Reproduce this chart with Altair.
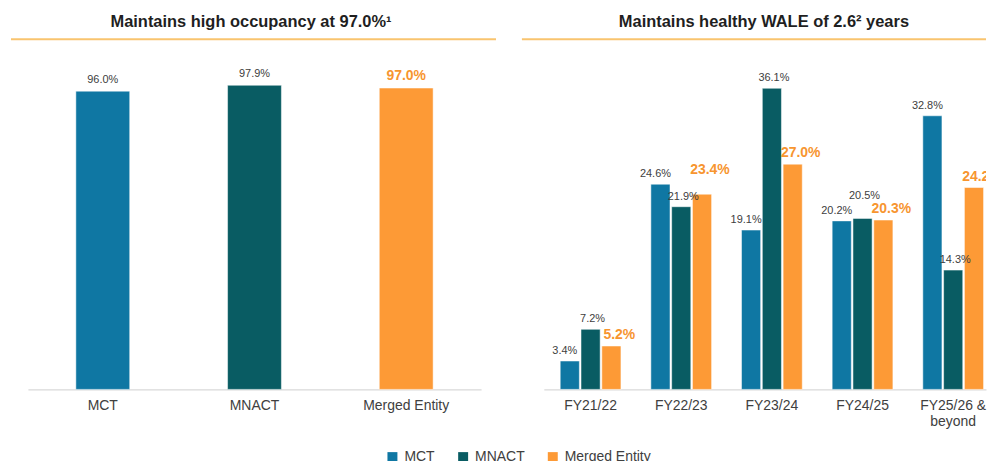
import altair as alt
import pandas as pd

# ---------------- data ----------------
series = ["MCT", "MNACT", "Merged Entity"]
colors = ["#0F77A3", "#095C63", "#FD9A36"]

occ_values = [96.0, 97.9, 97.0]

years = ["FY21/22", "FY22/23", "FY23/24", "FY24/25", "FY25/26 & beyond"]
mct_wale = [3.4, 24.6, 19.1, 20.2, 32.8]
mnact_wale = [7.2, 21.9, 36.1, 20.5, 14.3]
merged_wale = [5.2, 23.4, 27.0, 20.3, 24.2]

titles = ["Maintains high occupancy at 97.0%\u00b9", "Maintains healthy WALE of 2.6\u00b2 years"]

occ_df = pd.DataFrame({"series": series, "value": occ_values})
rows = []
for i, yr in enumerate(years):
    for s, vals in zip(series, [mct_wale, mnact_wale, merged_wale]):
        rows.append({"year": yr, "series": s, "value": vals[i]})
wale_df = pd.DataFrame(rows)

FONT = "Liberation Sans"
H = 335
LW = 455
RW = 444
LABEL_GRAY = "#404040"
LABEL_ORANGE = "#F7952F"
LINE_ORANGE = "#F9C46F"

legend = alt.Legend(
    title=None, direction="horizontal", symbolType="square", symbolSize=100,
    symbolStrokeWidth=0, symbolOpacity=1, labelFont=FONT, labelFontSize=14,
    labelColor=LABEL_GRAY, labelOffset=5, columnPadding=21, padding=0,
)
color = alt.Color("series:N", scale=alt.Scale(domain=series, range=colors), legend=legend)

def x_axis(label_expr=None):
    kw = dict(title=None, labelAngle=0, ticks=False, tickSize=0, domainColor="#D9D9D9",
              domainWidth=1.5, labelPadding=9, labelFontSize=14, labelColor=LABEL_GRAY,
              labelFont=FONT, labelLineHeight=16)
    if label_expr:
        kw["labelExpr"] = label_expr
    return alt.Axis(**kw)

def header(text, cx, x1, x2):
    tdf = pd.DataFrame({"t": [text]})
    t = alt.Chart(tdf).mark_text(
        font=FONT, fontSize=16.5, fontWeight="bold", color="#1F1F1F", baseline="middle", align="center"
    ).encode(text="t:N", x=alt.value(cx), y=alt.value(-34))
    r = alt.Chart(tdf).mark_rule(color=LINE_ORANGE, strokeWidth=2).encode(
        x=alt.value(x1), x2=alt.value(x2), y=alt.value(-16.5)
    )
    return t, r

# ---------------- left panel ----------------
base_l = alt.Chart(occ_df).transform_calculate(label="format(datum.value, '.1f') + '%'")
x_l = alt.X("series:N", sort=series, scale=alt.Scale(paddingInner=0.645, paddingOuter=0.316), axis=x_axis())
y_l = alt.Y("value:Q", scale=alt.Scale(domain=[0, 107.4]), axis=None)

bars_l = base_l.mark_bar(stroke="white", strokeWidth=1, strokeOpacity=0.5).encode(x=x_l, y=y_l, color=color)
txt_l1 = base_l.transform_filter("datum.series != 'Merged Entity'").mark_text(
    baseline="alphabetic", dy=-8, fontSize=11, color=LABEL_GRAY, font=FONT
).encode(x=x_l, y=y_l, text="label:N")
txt_l2 = base_l.transform_filter("datum.series == 'Merged Entity'").mark_text(
    baseline="alphabetic", dy=-8, fontSize=14, fontWeight="bold", color=LABEL_ORANGE, font=FONT
).encode(x=x_l, y=y_l, text="label:N")
t_l, r_l = header(titles[0], 224, -17, LW + 15)
left = alt.layer(bars_l, txt_l1, txt_l2, t_l, r_l).properties(width=LW, height=H)

# ---------------- right panel ----------------
base_r = alt.Chart(wale_df).transform_calculate(
    label="format(datum.value, '.1f') + '%'",
    # lift a few crowded labels (in % units) so that neighbours do not collide
    label_y="datum.value + ((datum.year == 'FY24/25' && datum.series == 'MNACT') ? 1.5 : "
            "((datum.year == 'FY22/23' && datum.series == 'Merged Entity') ? 1.6 : 0))",
)
x_r = alt.X(
    "year:N", sort=years,
    scale=alt.Scale(paddingInner=0.33, paddingOuter=0.104, align=0.87),
    axis=x_axis("datum.label == 'FY25/26 & beyond' ? ['FY25/26 &', 'beyond'] : datum.label"),
)
xo = alt.XOffset("series:N", sort=series, scale=alt.Scale(domain=series, paddingInner=0.08, paddingOuter=0))
y_r = alt.Y("value:Q", scale=alt.Scale(domain=[0, 40]), axis=None)
y_rl = alt.Y("label_y:Q", scale=alt.Scale(domain=[0, 40]), axis=None)

bars_r = base_r.mark_bar(stroke="white", strokeWidth=1, strokeOpacity=0.5).encode(
    x=x_r, xOffset=xo, y=y_r, color=color
)
txt_r1 = base_r.transform_filter("datum.series == 'MCT'").mark_text(
    baseline="alphabetic", dy=-7, dx=-5, fontSize=11, color=LABEL_GRAY, font=FONT, clip=True
).encode(x=x_r, xOffset=xo, y=y_rl, text="label:N")
txt_r2 = base_r.transform_filter("datum.series == 'MNACT'").mark_text(
    baseline="alphabetic", dy=-7, dx=2, fontSize=11, color=LABEL_GRAY, font=FONT, clip=True
).encode(x=x_r, xOffset=xo, y=y_rl, text="label:N")
txt_r3 = base_r.transform_filter("datum.series == 'Merged Entity'").mark_text(
    baseline="alphabetic", dy=-7, dx=8, fontSize=14, fontWeight="bold", color=LABEL_ORANGE, font=FONT,
    clip=True
).encode(x=x_r, xOffset=xo, y=y_rl, text="label:N")
t_r, r_r = header(titles[1], 221, -22, RW)
right = alt.layer(bars_r, txt_r1, txt_r2, txt_r3, t_r, r_r).properties(width=RW, height=H)

chart = (
    alt.hconcat(left, right, spacing=24)
    .resolve_scale(x="independent", y="independent", color="shared")
    .properties(padding={"left": 2, "top": 5, "right": 0, "bottom": 0}, background="white")
    .configure_view(stroke=None)
    .configure_legend(orient="none", legendX=359, legendY=396)
)

chart.save("out.html", embed_options={"renderer": "svg", "actions": False})
